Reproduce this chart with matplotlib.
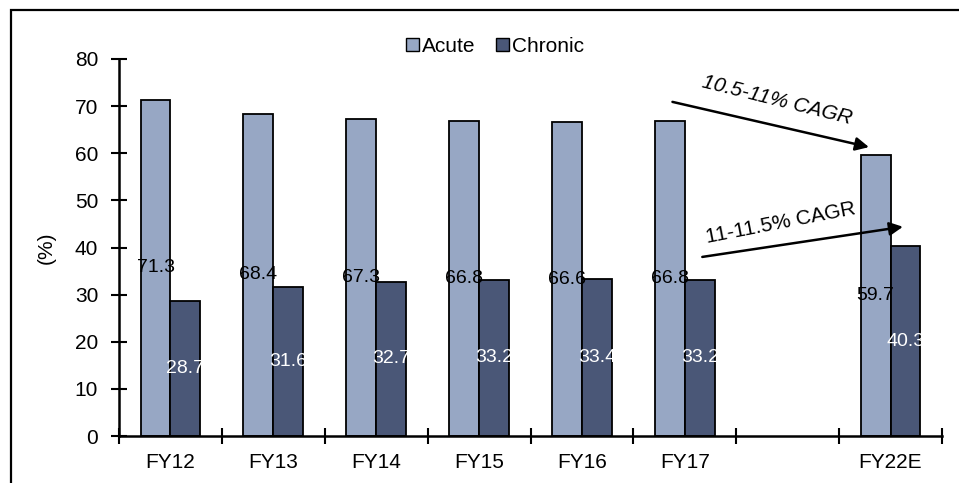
import numpy as np
import matplotlib
matplotlib.use("Agg")
import matplotlib.pyplot as plt
from matplotlib.patches import Rectangle, Patch

plt.rcParams['font.family'] = ['Liberation Sans', 'DejaVu Sans']

# Share of the market by therapy type (%)
categories = ["FY12", "FY13", "FY14", "FY15", "FY16", "FY17", "", "FY22E"]
acute = [71.3, 68.4, 67.3, 66.8, 66.6, 66.8, np.nan, 59.7]
chronic = [28.7, 31.6, 32.7, 33.2, 33.4, 33.2, np.nan, 40.3]
series_names = ["Acute", "Chronic"]
cagr_labels = ["10.5-11% CAGR", "11-11.5% CAGR"]

acute_color = "#97A7C4"
chronic_color = "#4A5777"

W, H = 959, 483
fig = plt.figure(figsize=(W / 100, H / 100), dpi=100)
ax = fig.add_axes([119 / W, 1 - 436 / H, (942 - 119) / W, (436 - 59) / H])

x = np.arange(len(categories))
bw = 0.29
ax.bar(x - bw / 2, acute, bw, color=acute_color, edgecolor="black", linewidth=1.3, zorder=2)
ax.bar(x + bw / 2, chronic, bw, color=chronic_color, edgecolor="black", linewidth=1.3, zorder=2)

# Value labels at the middle of each bar
for xi, a, c in zip(x, acute, chronic):
    if not np.isnan(a):
        ax.text(xi - bw / 2, a / 2, f"{a:.1f}", ha="center", va="center",
                fontsize=14, color="black", zorder=3)
    if not np.isnan(c):
        ax.text(xi + bw / 2, c / 2, f"{c:.1f}", ha="center", va="center",
                fontsize=14, color="white", zorder=3)

ax.set_xlim(-0.5, len(categories) - 0.5)
ax.set_ylim(0, 80)
ax.set_yticks(np.arange(0, 81, 10))
ax.set_xticks(x)
ax.set_xticklabels(categories)
ax.set_xticks(np.arange(-0.5, len(categories), 1.0), minor=True)

ax.tick_params(axis="x", which="major", length=0, pad=12, labelsize=15)
ax.tick_params(axis="x", which="minor", direction="inout", length=12, width=1.5)
ax.tick_params(axis="y", which="major", direction="inout", length=12, width=1.5,
               pad=9, labelsize=15)

for side in ["top", "right"]:
    ax.spines[side].set_visible(False)
for side in ["left", "bottom"]:
    ax.spines[side].set_linewidth(1.8)

ax.set_ylabel("(%)", fontsize=15, labelpad=14)

# Legend across the top
handles = [Patch(facecolor=acute_color, edgecolor="black", linewidth=1.0),
           Patch(facecolor=chronic_color, edgecolor="black", linewidth=1.0)]
fig.legend(handles, series_names, loc="center", bbox_to_anchor=(495 / W, 1 - 46 / H),
           ncol=2, frameon=False, fontsize=15, handlelength=0.6, handleheight=0.6,
           handletextpad=0.15, columnspacing=1.0, borderpad=0)

# Growth arrows toward the FY22E bars
ax.annotate("", xy=(6.79, 61.3), xytext=(4.88, 70.9),
            arrowprops=dict(arrowstyle="-|>", color="black", lw=1.8,
                            mutation_scale=20, shrinkA=0, shrinkB=0))
ax.annotate("", xy=(7.12, 44.4), xytext=(5.17, 38.0),
            arrowprops=dict(arrowstyle="-|>", color="black", lw=1.8,
                            mutation_scale=20, shrinkA=0, shrinkB=0))
ax.text(5.90, 71.3, cagr_labels[0], fontsize=15, style="italic",
        rotation=-14, ha="center", va="center", rotation_mode="anchor")
ax.text(5.93, 45.2, cagr_labels[1], fontsize=15,
        rotation=11, ha="center", va="center", rotation_mode="anchor")

# Outer frame
fig.patches.append(Rectangle((11 / W, -0.2), 1.5, 1.2 - 10 / H,
                             transform=fig.transFigure, fill=False,
                             edgecolor="black", linewidth=1.6, clip_on=False))

fig.savefig("out.png", dpi=100)
